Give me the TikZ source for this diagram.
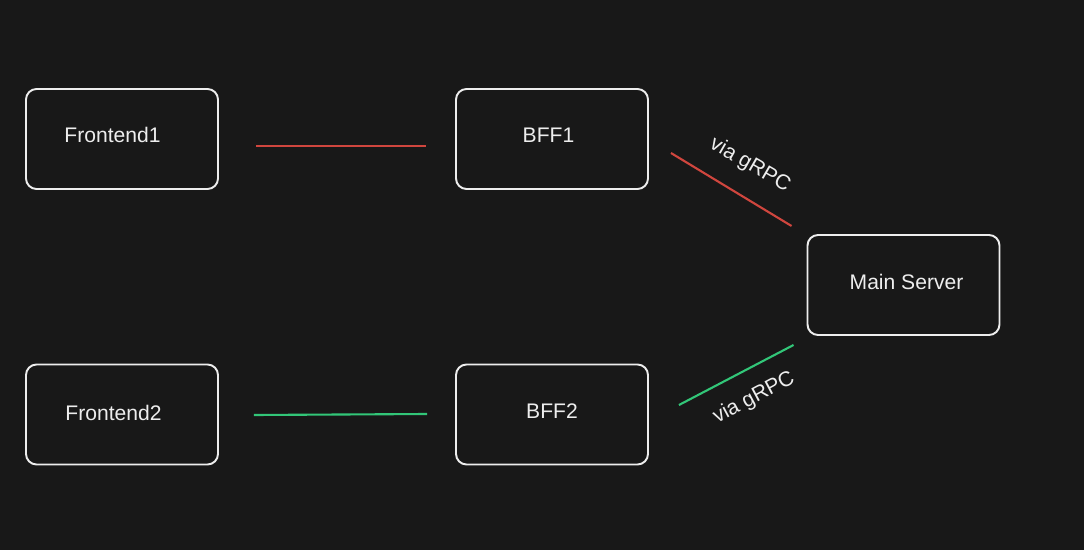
\documentclass[tikz,border=0pt]{standalone}
\usepackage{fontspec}
\setmainfont{Liberation Sans}
\definecolor{bgdark}{HTML}{181818}
\definecolor{linkred}{HTML}{D0463E}
\definecolor{linkgreen}{HTML}{32C678}
\definecolor{boxwhite}{HTML}{EDEDED}
\begin{document}
\begin{tikzpicture}[x = 0.02cm, y = -0.02cm]
			% Background and picture size
			\fill[bgdark] (0, 0) rectangle (1084, 550);
			\useasboundingbox (0, 0) rectangle (1084, 550);

			% Box and link styles
			\tikzset{service box/.style = {draw = boxwhite, line width = 1.1pt, rounded corners = 6pt, minimum width = 192*0.02cm, minimum height = 100*0.02cm}}
			\tikzset{box text/.style = {text = boxwhite, font = \fontsize{12}{14}\selectfont}}
			\tikzset{red link/.style = {linkred, line width = 1.2pt}}
			\tikzset{green link/.style = {linkgreen, line width = 1.2pt}}
			\tikzset{link text/.style = {text = boxwhite, font = \fontsize{12}{14}\selectfont, inner sep = 0pt}}

			% Draw the boxes with their texts
			\node[service box, label = {[box text, shift = {(-9.5, -4)}]center:Frontend1}] (front1) at (122, 139) {};
			\node[service box, label = {[box text, shift = {(-3.5, -4)}]center:BFF1}] (bff1) at (552, 139) {};
			\node[service box, label = {[box text, shift = {(-8.5, -1.5)}]center:Frontend2}] (front2) at (122, 414.5) {};
			\node[service box, label = {[box text, shift = {(0, -3.5)}]center:BFF2}] (bff2) at (552, 414.5) {};
			\node[service box, label = {[box text, shift = {(3, -3)}]center:Main Server}] (main) at (903.5, 285) {};

			% Draw the links between the boxes
			\draw[red link] ([shift = {(37, 7)}]front1.east)--([shift = {(-29, 7)}]bff1.west);
			\draw[green link] ([shift = {(35, 0.5)}]front2.east)--([shift = {(-28, -0.5)}]bff2.west);
			\draw[red link] ([shift = {(22, 14)}]bff1.east)--([shift = {(-15, -59)}]main.west);
			\draw[green link] ([shift = {(30, -9.5)}]bff2.east)--([shift = {(-13, 60)}]main.west);

			% Draw the link labels
			\node[link text, rotate = -30] (grpc1) at (750, 165) {via gRPC};
			\node[link text, rotate = 28] (grpc2) at (754, 398) {via gRPC};

		\end{tikzpicture}
\end{document}
